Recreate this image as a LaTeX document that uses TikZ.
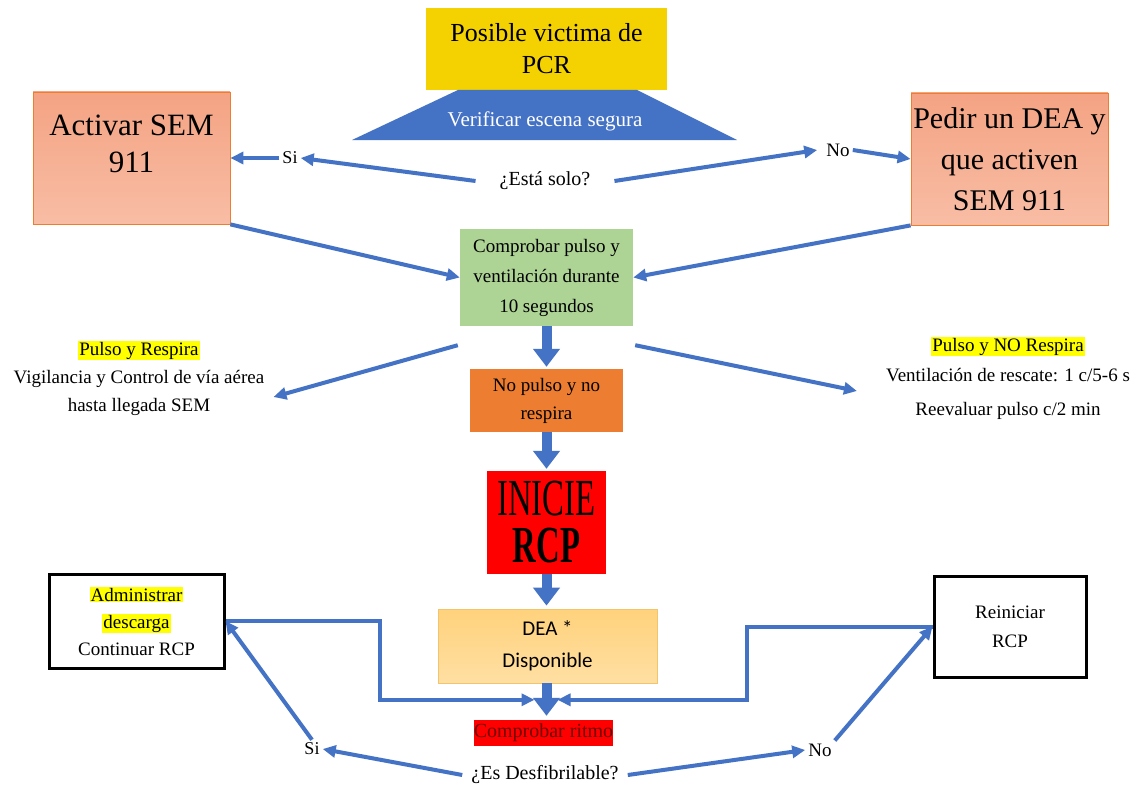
\documentclass[tikz,border=0pt]{standalone}
\usepackage{fontspec}
\setmainfont{Liberation Serif}
\newfontfamily\carlitofont{Carlito}
\usetikzlibrary{arrows.meta,calc}
\newcommand\myfs[2]{\fontsize{#1pt}{#2pt}\selectfont}
\definecolor{arrowblue}{HTML}{4472C4}
\definecolor{topyellow}{HTML}{F4D100}
\definecolor{salmontop}{HTML}{F4A383}
\definecolor{salmonbot}{HTML}{F8BDA5}
\definecolor{salmonline}{HTML}{ED7D31}
\definecolor{greenbox}{HTML}{ADD395}
\definecolor{orangebox}{HTML}{ED7D31}
\definecolor{deatop}{HTML}{FFD27C}
\definecolor{deabot}{HTML}{FFDFA3}
\definecolor{dealine}{HTML}{F2C46B}
\definecolor{hlyellow}{HTML}{FFFF00}
\definecolor{darkred}{HTML}{700000}
\setlength{\fboxsep}{1pt}
\begin{document}
\begin{tikzpicture}[x=1pt,y=-1pt,
  conn/.style={draw=arrowblue,line width=4pt,-{Triangle[width=12pt,length=13pt]}},
  blockarrow/.style={draw=arrowblue,line width=10pt,-{Triangle[width=26pt,length=18pt]}},
  salmonbox/.style={draw=salmonline,line width=0.8pt,top color=salmontop,bottom color=salmonbot,minimum width=197pt,minimum height=132pt,inner sep=0pt},
  blackbox/.style={draw=black,line width=3pt,fill=white,inner sep=0pt,align=center,font=\myfs{19}{27}},
  lbl/.style={inner sep=3pt,font=\myfs{19}{28},align=center}
]
\path[use as bounding box,fill=white] (0,0) rectangle (1141,792);

% top
\node[fill=topyellow,minimum width=241pt,minimum height=82pt,inner sep=0pt,align=center,font=\myfs{26}{32}] (top) at (546.5,49) {Posible victima de\\PCR};
\fill[arrowblue] (458,90) -- (637,90) -- (737,140) -- (352,140) -- cycle;
\node[text=white,font=\myfs{21}{24}] (verif) at (545,121) {Verificar escena segura};

\node[lbl,inner xsep=24pt,font=\myfs{20}{22}] (solo) at (545,181) {¿Está solo?};
\node[lbl,font=\myfs{18}{20}] (si1) at (290,158) {Si};
\node[lbl,font=\myfs{19}{20}] (no1) at (838,150) {No};

\node[salmonbox] (activar) at (131.5,158) {};
\node[align=center,font=\myfs{31}{37}] (activartxt) at (131.5,143.5) {Activar SEM\\911};
\node[salmonbox,align=center,font=\myfs{30}{41}] (pedir) at (1009.5,159) {Pedir un DEA y\\que activen\\SEM 911};

\node[fill=greenbox,minimum width=173pt,minimum height=97pt,inner sep=0pt,align=center,font=\myfs{19}{30}] (green) at (546.5,277.5) {Comprobar pulso y\\ventilación durante\\10 segundos};

\node[lbl] (pulsoL) at (139,378) {\colorbox{hlyellow}{Pulso y Respira}\\Vigilancia y Control de vía aérea\\hasta llegada SEM};
\node[lbl,font=\myfs{19}{30}] (pulsoR) at (1008,378) {\colorbox{hlyellow}{Pulso y NO Respira}\\Ventilación de rescate: 1 c/5-6 s\\[4pt]Reevaluar pulso c/2 min};

\node[fill=orangebox,minimum width=153pt,minimum height=63pt,inner sep=0pt,align=center,font=\myfs{19}{28}] (orange) at (546.5,400.5) {No pulso y no\\respira};

\node[fill=red,minimum width=119pt,minimum height=103pt,inner sep=0pt,align=center,font=\myfs{52}{47}] (inicie) at (546.5,522.5) {\scalebox{0.63}[1]{INICIE}\\\scalebox{0.63}[1]{\bfseries RCP}};

\node[draw=dealine,line width=0.8pt,top color=deatop,bottom color=deabot,minimum width=219pt,minimum height=74pt,inner sep=0pt,align=center,font=\carlitofont\myfs{21}{32}] (dea) at (547.5,646) {DEA *\\Disponible};

\node[fill=red,text=darkred,minimum width=139pt,minimum height=26pt,inner sep=0pt,font=\myfs{20}{22}] (ritmo) at (543.5,733) {Comprobar ritmo};
\node[lbl,inner xsep=9pt,font=\myfs{20}{22}] (desf) at (545,775) {¿Es Desfibrilable?};
\node[lbl,font=\myfs{18}{20}] (si2) at (312,749) {Si};
\node[lbl,font=\myfs{19}{20}] (no2) at (820,750) {No};

\node[blackbox,minimum width=175pt,minimum height=94pt] (admin) at (136.5,621) {\colorbox{hlyellow}{Administrar}\\\colorbox{hlyellow}{descarga}\\Continuar RCP};
\node[blackbox,minimum width=152pt,minimum height=101pt,font=\myfs{19}{29}] (reini) at (1010,626.5) {Reiniciar\\RCP};

% connectors top
\draw[conn] (solo.west) -- (si1.east);
\draw[conn] (si1.west) -- (activar.east);
\draw[conn] (solo.east) -- ($(no1.west)+(-6,0)$);
\draw[conn] (no1.east) -- (pedir.west);
\draw[conn] (activar.south east) -- (green.west);
\draw[conn] (pedir.south west) -- (green.east);
\draw[conn] ($(green.south west)+(-2,19)$) -- ($(pulsoL.east)+(6,19)$);
\draw[conn] ($(green.south east)+(2,19)$) -- ($(pulsoR.west)+(-26,13)$);

% central block arrows
\draw[blockarrow] (green.south) -- ($(orange.north)+(0,-2)$);
\draw[blockarrow] (orange.south) -- ($(inicie.north)+(0,-2)$);
\draw[blockarrow] (inicie.south) -- ($(dea.north)+(-1,-3)$);
\draw[blockarrow] ($(dea.south)+(-1,0)$) -- ($(ritmo.north)+(3,-4)$);

% bottom loops
\draw[conn] (admin.east) -- ++(154,0) |- ($(ritmo.north)+(-9,-20)$);
\draw[conn] (reini.west) -- ++(-186,0) |- ($(ritmo.north)+(14,-20)$);
\draw[conn] (desf.west) -- (si2.east);
\draw[conn] (si2.north) -- (admin.east);
\draw[conn] (desf.east) -- (no2.west);
\draw[conn] (no2.north east) -- (reini.west);
\end{tikzpicture}
\end{document}
